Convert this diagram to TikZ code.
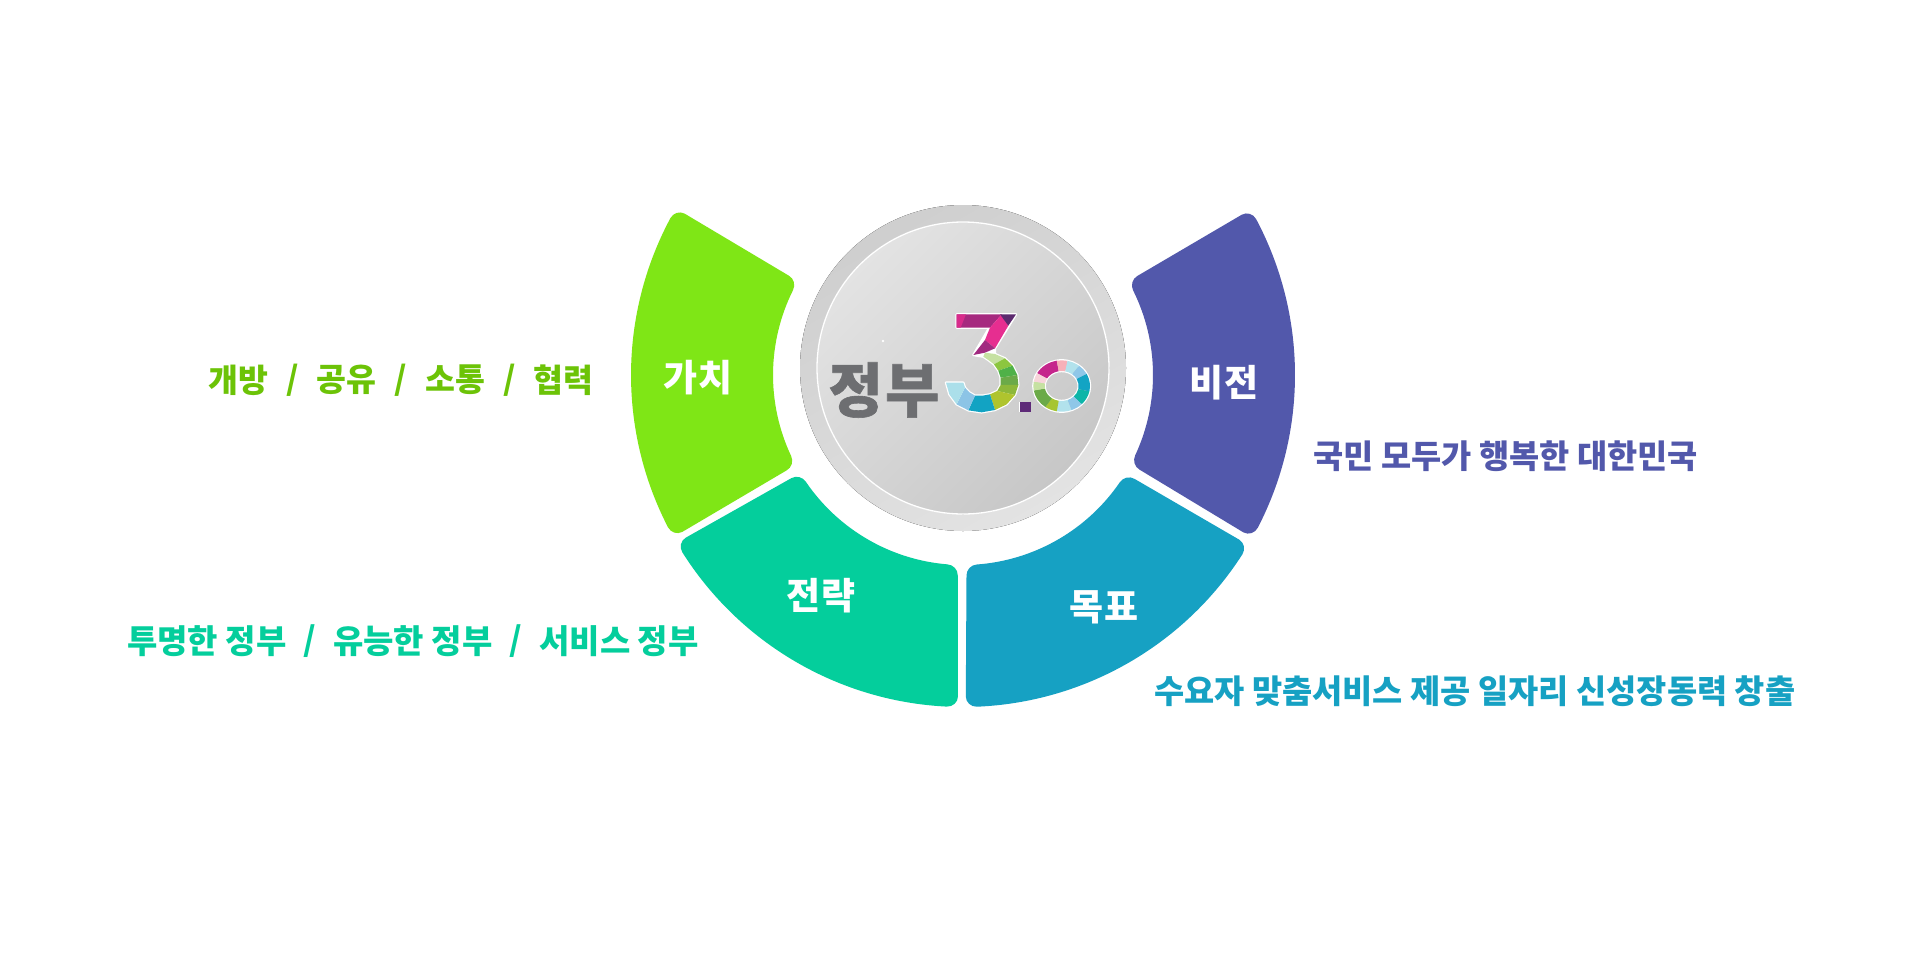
\documentclass[tikz,border=0pt]{standalone}
\usepackage{fontspec}
\newfontfamily\kr{Noto Sans CJK KR}
\newfontfamily\krlogo[LetterSpace=4]{Noto Sans CJK KR}
\definecolor{cgreen}{HTML}{7FE616}
\definecolor{cgreentxt}{HTML}{6CC307}
\definecolor{cmint}{HTML}{04CE9C}
\definecolor{cblue}{HTML}{16A1C3}
\definecolor{cpurple}{HTML}{5258AB}
\definecolor{lgray}{HTML}{6D6E71}
\tikzset{
  headtxt/.style={text=white,inner sep=0pt,font=\kr\bfseries\fontsize{37}{40}\selectfont},
  labeltxt/.style={anchor=west,inner sep=0pt,font=\kr\bfseries\fontsize{#1}{40}\selectfont},
}
% #1 colour, #2 outer low, #3 inner low, #4 inner high, #5 outer high (angles, y down)
\newcommand{\ringseg}[5]{%
  \fill[#1]
    ({#2+1.9}:332) arc[start angle={#2+1.9},end angle={#5-1.9},radius=332]
    .. controls ({#5-.85}:332) and (#5:327.3) .. (#5:321.5)
    -- (#4:200.5)
    .. controls (#4:194.7) and ({#4-1.45}:190) .. ({#4-3.2}:190)
    arc[start angle={#4-3.2},end angle={#3+3.2},radius=190]
    .. controls ({#3+1.45}:190) and (#3:194.7) .. (#3:200.5)
    -- (#2:321.5)
    .. controls (#2:327.3) and ({#2+.85}:332) .. ({#2+1.9}:332) -- cycle;
}
\newcommand{\fc}[2]{\definecolor{tmpc}{HTML}{#1}\fill[tmpc] #2;}
% ring sector of the zero: #1 start angle, #2 end angle, #3 colour
\newcommand{\zs}[3]{\definecolor{tmpc}{HTML}{#3}\fill[tmpc]
  ({125+85*cos(#1)},{108+77*sin(#1)}) arc[start angle=#1,end angle=#2,x radius=85,y radius=77]
  -- ({125+51*cos(#2)},{108+45*sin(#2)}) arc[start angle=#2,end angle=#1,x radius=51,y radius=45] -- cycle;}
\begin{document}
\begin{tikzpicture}[x=1pt,y=-1pt]
\useasboundingbox (0,0) rectangle (1919,975);
\fill[white] (0,0) rectangle (1919,975);
% four ring segments
\begin{scope}[shift={(963,375)}]
  \ringseg{cgreen}{150.8}{151.6}{209.7}{210.1}
  \ringseg{cmint}{90.9}{91.5}{149.0}{149.6}
  \ringseg{cblue}{30.8}{31.2}{89.0}{89.5}
  \ringseg{cpurple}{-29.9}{-29.6}{28.2}{29.3}
\end{scope}
% central disc
\fill[left color=black!19,right color=black!11,shading angle=30] (963,368) circle[radius=163];
\fill[left color=black!11,right color=black!22,shading angle=45] (963,368) circle[radius=146];
\draw[white,line width=1.3pt] (963,368) circle[radius=146];
\fill[white] (883,341) circle[radius=1.3];
% logo word
\node[text=lgray,inner sep=0pt] (logoword) at (884,390) {\krlogo\addfontfeature{FakeBold=1}\bfseries\fontsize{59}{60}\selectfont 정부};
% logo figure 3
\begin{scope}[shift={(940,305)},x=.3333pt,y=-.3333pt]
  \draw[white,line width=2.4pt,line join=round,fill=white]
    (50,28)--(228,28)--(165,130)--(165,147)--(195,160)--(218,182)--(232,210)--(235,240)--(225,270)--(200,298)--(165,315)--(125,322)--(85,316)--(50,298)--(28,268)--(18,233)--(70,233)--(75,248)--(88,262)--(105,272)--(128,272)--(150,268)--(172,258)--(182,240)--(182,218)--(175,197)--(162,178)--(145,165)--(130,155)--(100,150)--(148,68)--(50,68)--cycle;
  \fc{A6297F}{(50,28)--(185,28)--(150,68)--(50,68)--cycle}
  \fc{D82B8B}{(50,28)--(78,28)--(62,68)--(50,68)--cycle}
  \fc{E62E90}{(185,28)--(205,62)--(165,130)--(135,105)--(150,68)--cycle}
  \fc{5C2A6E}{(180,28)--(228,28)--(205,62)--cycle}
  \fc{A12A80}{(135,105)--(165,130)--(135,143)--(100,150)--cycle}
  % bowl facets
  \fc{C6E1A2}{(135,143)--(165,147)--(195,160)--(162,178)--(145,165)--(130,155)--cycle}
  \fc{8CC63F}{(195,160)--(218,182)--(175,197)--(162,178)--cycle}
  \fc{4FB148}{(218,182)--(232,210)--(182,218)--(175,197)--cycle}
  \fc{6BAA48}{(232,210)--(235,240)--(182,240)--(182,218)--cycle}
  \fc{8DB83A}{(235,240)--(225,270)--(172,258)--(182,240)--cycle}
  \fc{AFC42E}{(225,270)--(200,298)--(165,315)--(150,268)--(172,258)--cycle}
  \fc{12A3C3}{(165,315)--(125,322)--(85,316)--(105,272)--(128,272)--(150,268)--cycle}
  \fc{8CC4E6}{(85,316)--(50,298)--(75,248)--(88,262)--(105,272)--cycle}
  \fc{ABDFEA}{(50,298)--(28,268)--(18,233)--(70,233)--(75,248)--cycle}
  % dot
  \draw[white,line width=1.2pt,fill=white] (240,292) rectangle (272,320);
  \fc{5E2A78}{(240,292)--(272,292)--(272,320)--(240,320)--cycle}
\end{scope}
% logo figure 0
\begin{scope}[shift={(1020,350)},x=.3333pt,y=-.3333pt]
  \draw[white,line width=2.4pt] (125,108) circle[x radius=85,y radius=77];
  \draw[white,line width=2.4pt] (125,108) circle[x radius=51,y radius=45];
  \zs{-150}{-100}{C5268C}
  \zs{-100}{-78}{F7B0B8}
  \zs{-78}{-52}{B2E2EC}
  \zs{-52}{-28}{8FC7E8}
  \zs{-28}{12}{13A4C4}
  \zs{12}{45}{0DB5A8}
  \zs{45}{70}{8FC7E8}
  \zs{70}{100}{B2E2EC}
  \zs{100}{125}{A6C532}
  \zs{125}{170}{6BAA48}
  \zs{170}{190}{C6E1A2}
  \zs{190}{210}{F7D5DA}
\end{scope}
% head labels
\node[headtxt] (value) at (698,378) {가치};
\node[headtxt] (vision) at (1224,383) {비전};
\node[headtxt] (strategy) at (821,596) {전략};
\node[headtxt] (goal) at (1104,607) {목표};
% side labels: value row
\tikzset{valrow/.style={labeltxt=32.5,text=cgreentxt},strow/.style={labeltxt=33,text=cmint}}
\node[valrow] (va) at (208,380) {개방};
\node[valrow] (vb) at ([xshift=17.7pt]va.east) {/};
\node[valrow] (vc) at ([xshift=17.7pt]vb.east) {공유};
\node[valrow] (vd) at ([xshift=17.7pt]vc.east) {/};
\node[valrow] (ve) at ([xshift=17.7pt]vd.east) {소통};
\node[valrow] (vf) at ([xshift=17.7pt]ve.east) {/};
\node[valrow] (vg) at ([xshift=17.7pt]vf.east) {협력};
% side labels: strategy row
\node[strow] (sa) at (127,641) {투명한 정부};
\node[strow] (sb) at ([xshift=16.6pt]sa.east) {/};
\node[strow] (sc) at ([xshift=16.6pt]sb.east) {유능한 정부};
\node[strow] (sd) at ([xshift=16.6pt]sc.east) {/};
\node[strow] (se) at ([xshift=16.6pt]sd.east) {서비스 정부};
% side labels: long rows
\node[labeltxt=32.8,text=cpurple] (visiontxt) at (1313,456.5) {국민 모두가 행복한 대한민국};
\node[labeltxt=32.8,text=cblue] (goaltxt) at (1154,691.5) {수요자 맞춤서비스 제공 일자리 신성장동력 창출};
\end{tikzpicture}
\end{document}
